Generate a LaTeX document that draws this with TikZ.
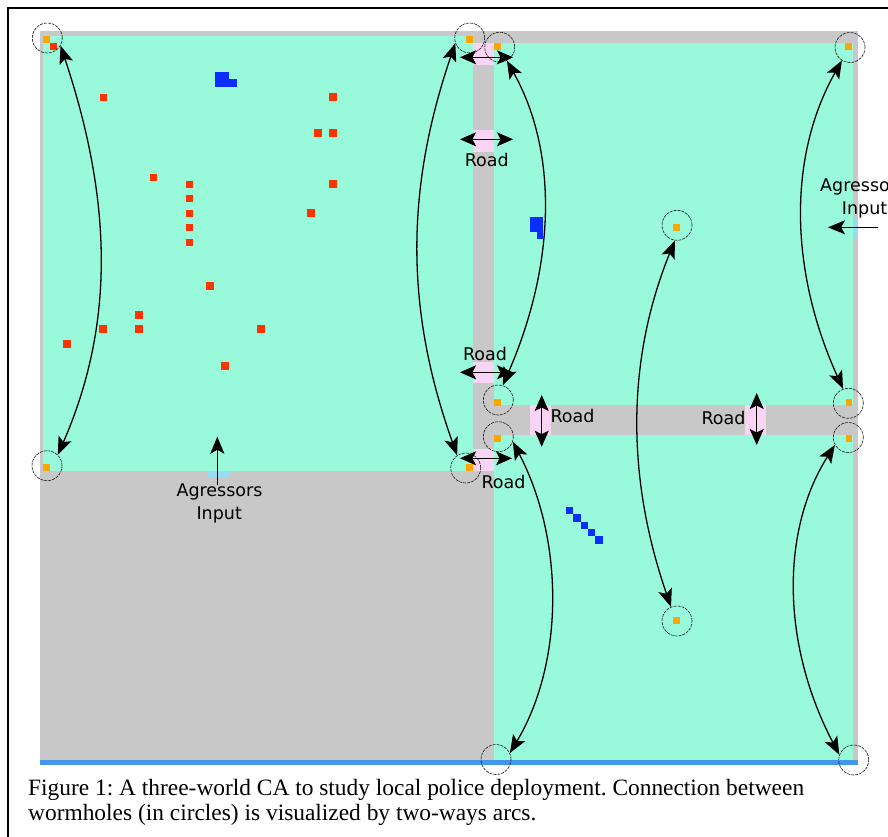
\documentclass[tikz,border=0pt]{standalone}
\usepackage{fontspec}
\setmainfont{Liberation Serif}
\newfontfamily\labelfont{DejaVu Sans}
\usetikzlibrary{arrows.meta}

\definecolor{colField}{RGB}{153,250,219}
\definecolor{colWall}{RGB}{200,200,200}
\definecolor{colPink}{RGB}{250,212,245}
\definecolor{colRed}{RGB}{255,51,0}
\definecolor{colOrange}{RGB}{255,165,0}
\definecolor{colBlue}{RGB}{10,46,255}
\definecolor{colInput}{RGB}{150,220,245}
\definecolor{colEdge}{RGB}{66,150,235}

\tikzset{
  hole/.style={circle, draw=black!90, dash pattern=on 3pt off 1pt,
    line width=0.6pt, minimum size=30pt, inner sep=0pt},
  arc/.style={line width=1.3pt, {Stealth[length=18pt,width=14pt,inset=4pt]}-{Stealth[length=18pt,width=14pt,inset=4pt]}},
  roadarrow/.style={line width=1pt, {Stealth[length=16pt,width=14pt,inset=3.5pt]}-{Stealth[length=16pt,width=14pt,inset=3.5pt]}},
  inarrow/.style={line width=1.6pt, -{Stealth[length=17pt,width=14pt,inset=4pt]}},
  lbl/.style={font=\labelfont\fontsize{17.5}{22}\selectfont, inner sep=0pt},
  captxt/.style={font=\frenchspacing\fontsize{23.4}{25}\selectfont, inner sep=0pt, anchor=base west},
}

\begin{document}
\begin{tikzpicture}[x=1pt,y=-1pt]
\useasboundingbox (0,0) rectangle (888,836);
\clip (0,0) rectangle (888,836);

% walls and fields of the three worlds
\fill[colWall] (40,30.5) rectangle (858,760);
\fill[colField] (43,35.5) rectangle (473,471);
\fill[colField] (494,43) rectangle (852.7,405);
\fill[colField] (494,435) rectangle (852.7,760);
\fill[colEdge] (40,760) rectangle (858,765);

% road crossings
\foreach \xa/\ya/\xb/\yb in {472.7/42.7/494/65, 472.7/130/494/151.7,
    472.7/361.7/494/383.3, 530/405/551/435, 472.7/449/494/470.5, 745/405/766/435}
  \fill[colPink] (\xa,\ya) rectangle (\xb,\yb);

% aggressor entry cells
\fill[colInput] (207.7,471) rectangle (229.3,476.7);
\fill[colInput] (852.7,216.7) rectangle (857.7,238.3);

% red agents
\foreach \x/\y in {53.7/46.3, 103.7/97.5, 333/97, 318/133, 333/133, 153.7/177.5,
    189.7/184.3, 189.7/198.8, 189.7/213.3, 189.7/227.8, 189.7/242.7, 333/184,
    311/213, 210/286, 139/315, 103/329, 139/329, 261/329, 67/344, 225/366}
  \fill[colRed] (\x-3.6,\y-3.6) rectangle ++(7.2,7.2);

% blue agents
\fill[colBlue] (214.7,72) rectangle (229.3,86.7);
\fill[colBlue] (229.3,79.3) rectangle (236.7,86.7);
\fill[colBlue] (530,216.7) rectangle (543.3,231.7);
\fill[colBlue] (536.7,231.7) rectangle (543.3,239);
\foreach \i in {0,...,4}
  \fill[colBlue] (566+7.3*\i,507+7.3*\i) rectangle ++(7.3,7.3);

% wormhole cells
\foreach \x/\y in {46.5/39.2, 46.7/467.5, 469.3/39.3, 469.3/467.3, 497.3/46.3,
    497.7/402.7, 497.7/438.3, 848.3/46.7, 849/402.7, 849/438.3, 676.5/227.8, 676.5/620.5}
  \fill[colOrange] (\x-3.4,\y-3.4) rectangle ++(6.8,6.8);

% wormholes
\node[hole] (w1a) at (47.3,38) {};
\node[hole] (w1b) at (47,465.7) {};
\node[hole] (w1c) at (469.7,38) {};
\node[hole] (w1d) at (465.7,468) {};
\node[hole] (w2a) at (499.7,47.2) {};
\node[hole] (w2b) at (498.3,400) {};
\node[hole] (w2c) at (498.3,436.7) {};
\node[hole] (w2d) at (496,759.5) {};
\node[hole] (w2e) at (850,47.5) {};
\node[hole] (w2f) at (848.3,403.3) {};
\node[hole] (w2g) at (848.3,437.5) {};
\node[hole] (w2h) at (853.7,760) {};
\node[hole] (w2m) at (677,225.3) {};
\node[hole] (w2n) at (677,621) {};

% two-way links between wormholes
\draw[arc] (w1a.-30) .. controls (113.7,205) and (113.7,327) .. (w1b.45);
\draw[arc] (w1c.-160) .. controls (405.2,190) and (405.2,310) .. (w1d.124);
\draw[arc] (w2a.-62) .. controls (557,150) and (557,261) .. (w2b.73);
\draw[arc] (w2c.-19) .. controls (564.3,540) and (564.3,662) .. (w2d.25);
\draw[arc] (w2m.-98) .. controls (626.3,360) and (626.3,477.5) .. (w2n.113);
\draw[arc] (w2e.-122) .. controls (788.5,155) and (788.5,268.5) .. (w2f.110);
\draw[arc] (w2g.-151) .. controls (780.9,530) and (780.9,643.4) .. (w2h.160);

% road passages
\coordinate (r1w) at (460,57.3);  \coordinate (r1e) at (513,57.3);
\coordinate (r2w) at (460,139.3); \coordinate (r2e) at (513,139.3);
\coordinate (r3w) at (460,372.3); \coordinate (r3e) at (513,372.3);
\coordinate (r4n) at (541.7,395); \coordinate (r4s) at (541.7,446.7);
\coordinate (r5w) at (460,458.3); \coordinate (r5e) at (512,458.3);
\coordinate (r6n) at (756.7,393); \coordinate (r6s) at (756.7,445);
\draw[roadarrow] (r1w) -- (r1e);
\draw[roadarrow] (r2w) -- (r2e);
\draw[roadarrow] (r3w) -- (r3e);
\draw[roadarrow] (r4n) -- (r4s);
\draw[roadarrow] (r5w) -- (r5e);
\draw[roadarrow] (r6n) -- (r6s);

\node[lbl, anchor=base] (t2) at (486.8,166.7) {Road};
\node[lbl, anchor=base] (t3) at (485,360) {Road};
\node[lbl, anchor=base] (t4) at (572.5,422.7) {Road};
\node[lbl, anchor=base] (t5) at (503.5,488.3) {Road};
\node[lbl, anchor=base] (t6) at (723.5,424.3) {Road};

% aggressor inputs
\coordinate (inL) at (217.3,485);  \coordinate (inLtip) at (217.3,436.7);
\coordinate (inR) at (878,227.3);  \coordinate (inRtip) at (828,227.3);
\draw[inarrow] (inL) -- (inLtip);
\draw[inarrow] (inR) -- (inRtip);
\node[lbl, anchor=base] (ag1) at (219.5,496) {Agressors};
\node[lbl, anchor=base] (ag2) at (219.2,519.3) {Input};
\node[lbl, anchor=base west] (ag3) at (820,191.7) {Agressors};
\node[lbl, anchor=base west] (ag4) at (841.7,214) {Input};

% caption
\node[captxt] (cap1) at (28,795) {Figure 1: A three-world CA to study local police deployment. Connection between};
\node[captxt] (cap2) at (28,820) {wormholes (in circles) is visualized by two-ways arcs.};

% frame
\draw[line width=2pt] (8.3,850) -- (8.3,8.3) -- (900,8.3);
\end{tikzpicture}
\end{document}
